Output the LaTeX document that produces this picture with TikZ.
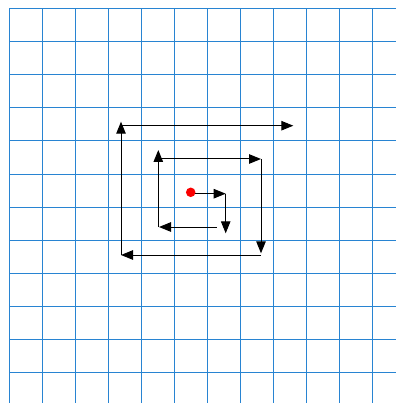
\documentclass[tikz,border=0pt]{standalone}
\usetikzlibrary{arrows.meta}
\definecolor{gridblue}{RGB}{40,132,210}
\definecolor{dotred}{RGB}{250,0,0}
\tikzset{
  gridline/.style={draw=gridblue, line width=1pt},
  spiral/.style={draw=black, line width=1pt, -{Triangle[length=12pt,width=9.5pt]}},
}
\begin{document}
\begin{tikzpicture}[x=1pt,y=-1pt]
\useasboundingbox (0,0) rectangle (396,403);
\fill[white] (0,0) rectangle (396,403);
\foreach \k in {0,...,11} {
  \draw[gridline] ({9+33*\k},9) -- ({9+33*\k},403);
  \draw[gridline] (9,{9+33*\k}) -- (396,{9+33*\k});
}
% spiral coordinates
\coordinate (a0) at (190.7,193.7);
\coordinate (a1) at (225.7,193.7);
\coordinate (b1) at (225.7,233.3);
\coordinate (c0) at (216.7,227);
\coordinate (c1) at (159,227);
\coordinate (d0) at (158.3,227);
\coordinate (d1) at (158.3,150);
\coordinate (e0) at (158.3,159);
\coordinate (e1) at (261,159);
\coordinate (f1) at (261,253.3);
\coordinate (g0) at (261,255);
\coordinate (g1) at (121,255);
\coordinate (h1) at (121,121.7);
\coordinate (i0) at (121,125.7);
\coordinate (i1) at (293.3,125.7);
\draw[spiral] (a0) -- (a1);
\draw[spiral] (a1) -- (b1);
\draw[spiral] (c0) -- (c1);
\draw[spiral] (d0) -- (d1);
\draw[spiral] (e0) -- (e1);
\draw[spiral] (e1) -- (f1);
\draw[spiral] (g0) -- (g1);
\draw[spiral] (g1) -- (h1);
\draw[spiral] (i0) -- (i1);
\node[circle, fill=dotred, inner sep=0pt, minimum size=9.5pt] (dot) at (190.7,192.3) {};
\end{tikzpicture}
\end{document}
